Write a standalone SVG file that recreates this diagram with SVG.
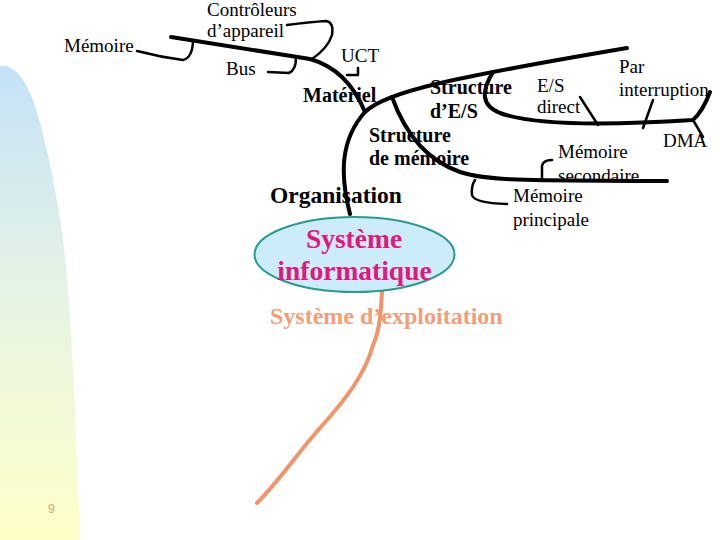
<svg xmlns="http://www.w3.org/2000/svg" width="720" height="540" viewBox="0 0 720 540">
<defs>
<linearGradient id="bg" x1="0" y1="0" x2="0" y2="1">
<stop offset="0" stop-color="#c4e2f8"/>
<stop offset="0.5" stop-color="#e6f4e2"/>
<stop offset="1" stop-color="#ffffc8"/>
</linearGradient>
</defs>
<style>
.t{font-family:"Liberation Serif","Times New Roman",serif;font-size:19px;fill:#000}
.b{font-family:"Liberation Serif","Times New Roman",serif;font-size:20px;font-weight:bold;fill:#000}
.big{font-family:"Liberation Serif","Times New Roman",serif;font-weight:bold}
.main{fill:none;stroke:#000;stroke-width:4;stroke-linecap:round;stroke-linejoin:round}
.tick{fill:none;stroke:#000;stroke-width:2.5;stroke-linecap:round;stroke-linejoin:round}
</style>
<rect width="720" height="540" fill="#fff"/>
<path d="M0,66 C15,64 25,80 33,100 C42,125 52,170 60,217 C66,260 72,300 80,540 L0,540 Z" fill="url(#bg)"/>
<text x="48" y="513" font-family="Liberation Sans,Arial,sans-serif" font-size="12" fill="#d4a878">9</text>

<g id="connectors">
<path class="main" d="M171,37 L310,59 C335,66 353,83 365,112"/>
<path class="main" d="M350,214 C340,175 340,140 365,112 C385,92 450,78 627,48"/>
<path class="main" d="M392,97 C402,125 420,158 460,172 C490,182 540,180 667,181"/>
<path class="main" d="M493,72 C482,90 480,105 500,113 C530,124 600,126 693,120 C702,112 707,100 710,92"/>
<path class="tick" d="M580,97 L598,125"/>
<path class="tick" d="M653,100 L643,128"/>
<path class="tick" d="M693,120 L703,137"/>
<path class="tick" d="M542,181 L542,166 Q543,160 552,160"/>
<path class="tick" d="M475,180 Q471,186 472,195 Q474,203 507,204"/>
<path class="tick" d="M137,51 Q160,57 183,60 Q192,58 193,42"/>
<path class="tick" d="M268,72 L289,73 Q296,70 296,58"/>
<path class="tick" d="M287,25 Q310,22 326,21 Q334,22 332,35 Q328,48 312,59"/>
<path class="tick" d="M347,75 L358,75 L358,68"/>
<path d="M382,292 C381,310 380,330 373,345 C365,375 345,400 320,428 C300,450 280,480 257,503" fill="none" stroke="#f0946a" stroke-width="4" stroke-linecap="round"/>
</g>

<g id="memoire"><text class="t" x="64" y="52">Mémoire</text></g>
<g id="controleurs"><text class="t" x="207" y="16">Contrôleurs</text><text class="t" x="207" y="37">d’appareil</text></g>
<g id="bus"><text class="t" x="226" y="75">Bus</text></g>
<g id="uct"><text class="t" x="341" y="62">UCT</text></g>
<g id="materiel"><text class="b" x="303" y="102">Matériel</text></g>
<g id="structure-es"><text class="b" x="430" y="94">Structure</text><text class="b" x="430" y="118">d’E/S</text></g>
<g id="structure-memoire"><text class="b" x="369" y="142">Structure</text><text class="b" x="369" y="165">de mémoire</text></g>
<g id="es-direct"><text class="t" x="537" y="92">E/S</text><text class="t" x="537" y="113">direct</text></g>
<g id="par-interruption"><text class="t" x="619" y="73">Par</text><text class="t" x="619" y="96">interruption</text></g>
<g id="dma"><text class="t" x="663" y="147">DMA</text></g>
<g id="memoire-secondaire"><text class="t" x="558" y="158">Mémoire</text><text class="t" x="558" y="182">secondaire</text></g>
<g id="memoire-principale"><text class="t" x="513" y="202">Mémoire</text><text class="t" x="513" y="226">principale</text></g>
<g id="organisation"><text class="big" x="270" y="203" font-size="23.5" fill="#000">Organisation</text></g>
<g id="systeme-informatique">
<ellipse cx="354.5" cy="254.5" rx="100" ry="37.5" fill="#cdecfa" stroke="#2a9a8c" stroke-width="2"/>
<text class="big" x="354" y="248" text-anchor="middle" font-size="27.5" fill="#e0197a">Système</text>
<text class="big" x="354.5" y="280" text-anchor="middle" font-size="27.5" fill="#e0197a">informatique</text>
</g>
<g id="systeme-exploitation"><text class="big" x="270" y="324" font-size="24" fill="#eea07a">Système d’exploitation</text></g>
</svg>
